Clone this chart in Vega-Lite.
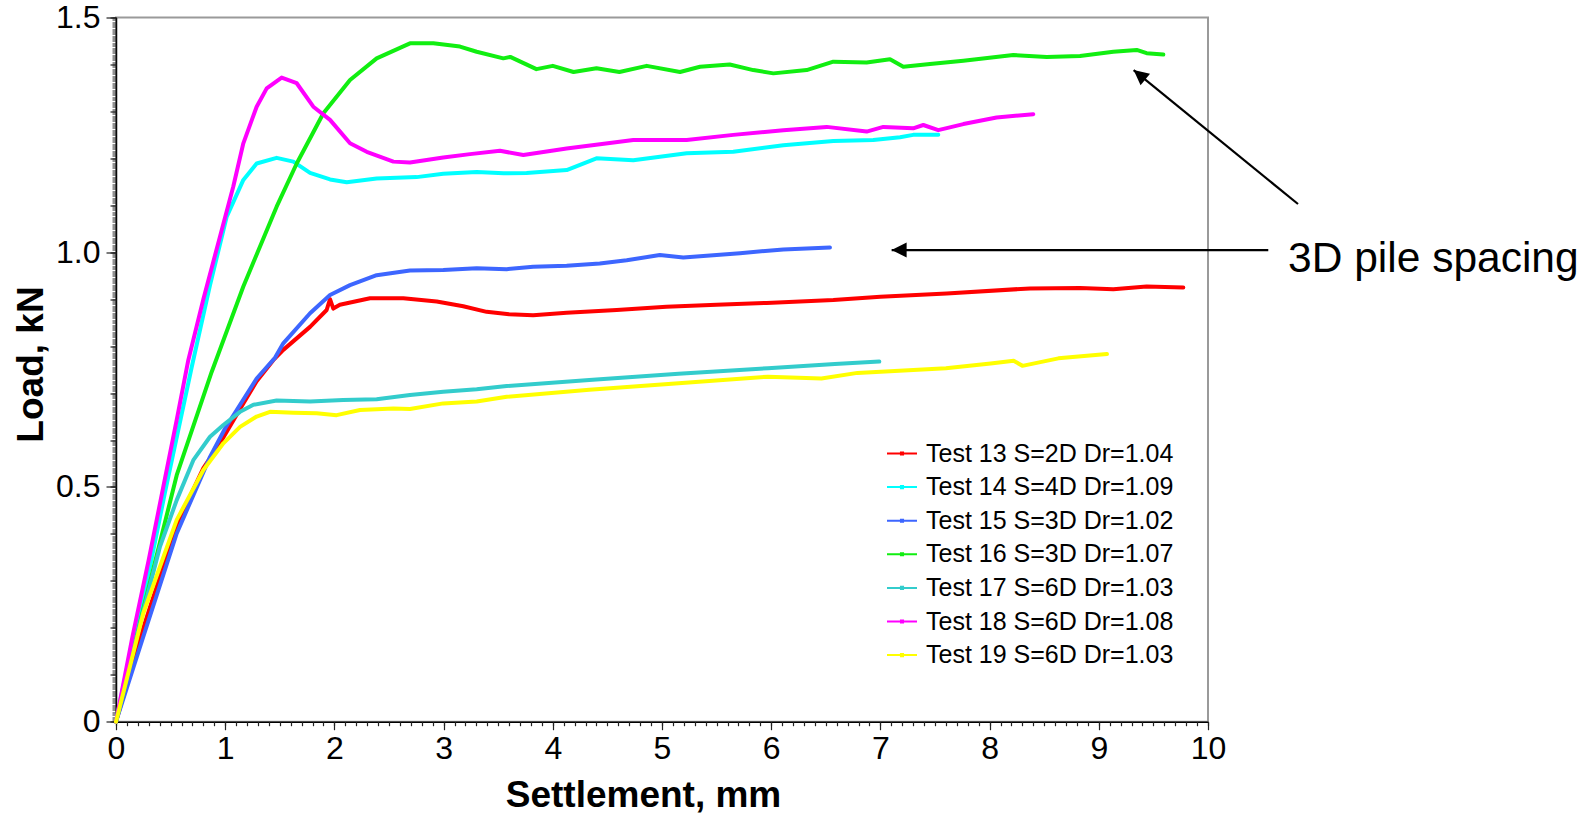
{
  "$schema": "https://vega.github.io/schema/vega-lite/v6.json",
  "autosize": "none",
  "width": 1092,
  "height": 704.2,
  "padding": {"left": 116, "top": 17.5, "right": 386, "bottom": 92.3},
  "background": "white",
  "config": {
    "view": {"stroke": "#9a9a9a", "strokeWidth": 2},
    "font": "Liberation Sans",
    "axis": {"grid": false, "labelFont": "Liberation Sans", "titleFont": "Liberation Sans", "labelColor": "#000", "titleColor": "#000", "tickColor": "#222", "domainColor": "#000"}
  },
  "datasets": {
    "ann": [
      {"k": "h", "x": 7.103, "y": 1.0047, "x2": 10.552, "y2": 1.0047},
      {"k": "d", "x": 9.319, "y": 1.388, "x2": 10.824, "y2": 1.1027},
      {"k": "t", "x": 10.733, "y": 0.9585, "label": "3D pile spacing"}
    ]
  },
  "data": {"values": [
    {"s":"Test 13 S=2D Dr=1.04","x":0,"y":0},{"s":"Test 13 S=2D Dr=1.04","x":0.25,"y":0.2},{"s":"Test 13 S=2D Dr=1.04","x":0.556,"y":0.42},{"s":"Test 13 S=2D Dr=1.04","x":0.8,"y":0.54},{"s":"Test 13 S=2D Dr=1.04","x":0.952,"y":0.593},{"s":"Test 13 S=2D Dr=1.04","x":1.166,"y":0.678},{"s":"Test 13 S=2D Dr=1.04","x":1.288,"y":0.725},{"s":"Test 13 S=2D Dr=1.04","x":1.44,"y":0.77},{"s":"Test 13 S=2D Dr=1.04","x":1.532,"y":0.792},{"s":"Test 13 S=2D Dr=1.04","x":1.777,"y":0.841},{"s":"Test 13 S=2D Dr=1.04","x":1.929,"y":0.877},{"s":"Test 13 S=2D Dr=1.04","x":1.96,"y":0.9},{"s":"Test 13 S=2D Dr=1.04","x":1.99,"y":0.88},{"s":"Test 13 S=2D Dr=1.04","x":2.05,"y":0.888},{"s":"Test 13 S=2D Dr=1.04","x":2.326,"y":0.902},{"s":"Test 13 S=2D Dr=1.04","x":2.631,"y":0.902},{"s":"Test 13 S=2D Dr=1.04","x":2.937,"y":0.895},{"s":"Test 13 S=2D Dr=1.04","x":3.18,"y":0.885},{"s":"Test 13 S=2D Dr=1.04","x":3.394,"y":0.873},{"s":"Test 13 S=2D Dr=1.04","x":3.6,"y":0.868},{"s":"Test 13 S=2D Dr=1.04","x":3.82,"y":0.866},{"s":"Test 13 S=2D Dr=1.04","x":4.127,"y":0.871},{"s":"Test 13 S=2D Dr=1.04","x":4.585,"y":0.877},{"s":"Test 13 S=2D Dr=1.04","x":5.04,"y":0.884},{"s":"Test 13 S=2D Dr=1.04","x":5.5,"y":0.888},{"s":"Test 13 S=2D Dr=1.04","x":5.958,"y":0.892},{"s":"Test 13 S=2D Dr=1.04","x":6.569,"y":0.898},{"s":"Test 13 S=2D Dr=1.04","x":7.0,"y":0.905},{"s":"Test 13 S=2D Dr=1.04","x":7.607,"y":0.912},{"s":"Test 13 S=2D Dr=1.04","x":8.37,"y":0.923},{"s":"Test 13 S=2D Dr=1.04","x":8.828,"y":0.924},{"s":"Test 13 S=2D Dr=1.04","x":9.133,"y":0.921},{"s":"Test 13 S=2D Dr=1.04","x":9.438,"y":0.927},{"s":"Test 13 S=2D Dr=1.04","x":9.774,"y":0.925},

    {"s":"Test 14 S=4D Dr=1.09","x":0,"y":0},{"s":"Test 14 S=4D Dr=1.09","x":0.16,"y":0.18},{"s":"Test 14 S=4D Dr=1.09","x":0.32,"y":0.34},{"s":"Test 14 S=4D Dr=1.09","x":0.45,"y":0.49},{"s":"Test 14 S=4D Dr=1.09","x":0.693,"y":0.755},{"s":"Test 14 S=4D Dr=1.09","x":0.861,"y":0.93},{"s":"Test 14 S=4D Dr=1.09","x":1.013,"y":1.075},{"s":"Test 14 S=4D Dr=1.09","x":1.166,"y":1.154},{"s":"Test 14 S=4D Dr=1.09","x":1.288,"y":1.189},{"s":"Test 14 S=4D Dr=1.09","x":1.471,"y":1.201},{"s":"Test 14 S=4D Dr=1.09","x":1.624,"y":1.193},{"s":"Test 14 S=4D Dr=1.09","x":1.777,"y":1.169},{"s":"Test 14 S=4D Dr=1.09","x":1.96,"y":1.155},{"s":"Test 14 S=4D Dr=1.09","x":2.113,"y":1.149},{"s":"Test 14 S=4D Dr=1.09","x":2.387,"y":1.157},{"s":"Test 14 S=4D Dr=1.09","x":2.753,"y":1.16},{"s":"Test 14 S=4D Dr=1.09","x":2.997,"y":1.167},{"s":"Test 14 S=4D Dr=1.09","x":3.303,"y":1.171},{"s":"Test 14 S=4D Dr=1.09","x":3.55,"y":1.168},{"s":"Test 14 S=4D Dr=1.09","x":3.76,"y":1.169},{"s":"Test 14 S=4D Dr=1.09","x":4.127,"y":1.175},{"s":"Test 14 S=4D Dr=1.09","x":4.4,"y":1.2},{"s":"Test 14 S=4D Dr=1.09","x":4.737,"y":1.196},{"s":"Test 14 S=4D Dr=1.09","x":5.226,"y":1.211},{"s":"Test 14 S=4D Dr=1.09","x":5.653,"y":1.214},{"s":"Test 14 S=4D Dr=1.09","x":6.111,"y":1.228},{"s":"Test 14 S=4D Dr=1.09","x":6.569,"y":1.237},{"s":"Test 14 S=4D Dr=1.09","x":6.935,"y":1.239},{"s":"Test 14 S=4D Dr=1.09","x":7.18,"y":1.245},{"s":"Test 14 S=4D Dr=1.09","x":7.3,"y":1.25},{"s":"Test 14 S=4D Dr=1.09","x":7.53,"y":1.25},

    {"s":"Test 15 S=3D Dr=1.02","x":0,"y":0},{"s":"Test 15 S=3D Dr=1.02","x":0.25,"y":0.181},{"s":"Test 15 S=3D Dr=1.02","x":0.556,"y":0.401},{"s":"Test 15 S=3D Dr=1.02","x":0.861,"y":0.564},{"s":"Test 15 S=3D Dr=1.02","x":1.0,"y":0.625},{"s":"Test 15 S=3D Dr=1.02","x":1.288,"y":0.731},{"s":"Test 15 S=3D Dr=1.02","x":1.456,"y":0.775},{"s":"Test 15 S=3D Dr=1.02","x":1.532,"y":0.806},{"s":"Test 15 S=3D Dr=1.02","x":1.777,"y":0.87},{"s":"Test 15 S=3D Dr=1.02","x":1.96,"y":0.909},{"s":"Test 15 S=3D Dr=1.02","x":2.143,"y":0.93},{"s":"Test 15 S=3D Dr=1.02","x":2.387,"y":0.951},{"s":"Test 15 S=3D Dr=1.02","x":2.692,"y":0.961},{"s":"Test 15 S=3D Dr=1.02","x":2.997,"y":0.962},{"s":"Test 15 S=3D Dr=1.02","x":3.303,"y":0.966},{"s":"Test 15 S=3D Dr=1.02","x":3.578,"y":0.964},{"s":"Test 15 S=3D Dr=1.02","x":3.82,"y":0.969},{"s":"Test 15 S=3D Dr=1.02","x":4.127,"y":0.971},{"s":"Test 15 S=3D Dr=1.02","x":4.43,"y":0.976},{"s":"Test 15 S=3D Dr=1.02","x":4.677,"y":0.983},{"s":"Test 15 S=3D Dr=1.02","x":4.98,"y":0.994},{"s":"Test 15 S=3D Dr=1.02","x":5.195,"y":0.989},{"s":"Test 15 S=3D Dr=1.02","x":5.5,"y":0.994},{"s":"Test 15 S=3D Dr=1.02","x":5.714,"y":0.998},{"s":"Test 15 S=3D Dr=1.02","x":6.111,"y":1.006},{"s":"Test 15 S=3D Dr=1.02","x":6.538,"y":1.01},

    {"s":"Test 16 S=3D Dr=1.07","x":0,"y":0},{"s":"Test 16 S=3D Dr=1.07","x":0.25,"y":0.24},{"s":"Test 16 S=3D Dr=1.07","x":0.556,"y":0.525},{"s":"Test 16 S=3D Dr=1.07","x":0.876,"y":0.745},{"s":"Test 16 S=3D Dr=1.07","x":1.166,"y":0.927},{"s":"Test 16 S=3D Dr=1.07","x":1.471,"y":1.097},{"s":"Test 16 S=3D Dr=1.07","x":1.655,"y":1.189},{"s":"Test 16 S=3D Dr=1.07","x":1.899,"y":1.296},{"s":"Test 16 S=3D Dr=1.07","x":2.143,"y":1.367},{"s":"Test 16 S=3D Dr=1.07","x":2.387,"y":1.413},{"s":"Test 16 S=3D Dr=1.07","x":2.692,"y":1.445},{"s":"Test 16 S=3D Dr=1.07","x":2.906,"y":1.445},{"s":"Test 16 S=3D Dr=1.07","x":3.15,"y":1.438},{"s":"Test 16 S=3D Dr=1.07","x":3.303,"y":1.427},{"s":"Test 16 S=3D Dr=1.07","x":3.547,"y":1.413},{"s":"Test 16 S=3D Dr=1.07","x":3.61,"y":1.416},{"s":"Test 16 S=3D Dr=1.07","x":3.85,"y":1.39},{"s":"Test 16 S=3D Dr=1.07","x":4.0,"y":1.397},{"s":"Test 16 S=3D Dr=1.07","x":4.19,"y":1.384},{"s":"Test 16 S=3D Dr=1.07","x":4.4,"y":1.392},{"s":"Test 16 S=3D Dr=1.07","x":4.61,"y":1.384},{"s":"Test 16 S=3D Dr=1.07","x":4.86,"y":1.397},{"s":"Test 16 S=3D Dr=1.07","x":5.165,"y":1.384},{"s":"Test 16 S=3D Dr=1.07","x":5.348,"y":1.395},{"s":"Test 16 S=3D Dr=1.07","x":5.62,"y":1.4},{"s":"Test 16 S=3D Dr=1.07","x":5.836,"y":1.388},{"s":"Test 16 S=3D Dr=1.07","x":6.02,"y":1.381},{"s":"Test 16 S=3D Dr=1.07","x":6.325,"y":1.388},{"s":"Test 16 S=3D Dr=1.07","x":6.569,"y":1.406},{"s":"Test 16 S=3D Dr=1.07","x":6.874,"y":1.404},{"s":"Test 16 S=3D Dr=1.07","x":7.088,"y":1.411},{"s":"Test 16 S=3D Dr=1.07","x":7.21,"y":1.395},{"s":"Test 16 S=3D Dr=1.07","x":7.454,"y":1.401},{"s":"Test 16 S=3D Dr=1.07","x":7.76,"y":1.408},{"s":"Test 16 S=3D Dr=1.07","x":8.217,"y":1.42},{"s":"Test 16 S=3D Dr=1.07","x":8.523,"y":1.416},{"s":"Test 16 S=3D Dr=1.07","x":8.828,"y":1.418},{"s":"Test 16 S=3D Dr=1.07","x":9.133,"y":1.427},{"s":"Test 16 S=3D Dr=1.07","x":9.347,"y":1.431},{"s":"Test 16 S=3D Dr=1.07","x":9.438,"y":1.424},{"s":"Test 16 S=3D Dr=1.07","x":9.591,"y":1.421},

    {"s":"Test 17 S=6D Dr=1.03","x":0,"y":0},{"s":"Test 17 S=6D Dr=1.03","x":0.2,"y":0.19},{"s":"Test 17 S=6D Dr=1.03","x":0.403,"y":0.373},{"s":"Test 17 S=6D Dr=1.03","x":0.556,"y":0.472},{"s":"Test 17 S=6D Dr=1.03","x":0.708,"y":0.557},{"s":"Test 17 S=6D Dr=1.03","x":0.861,"y":0.607},{"s":"Test 17 S=6D Dr=1.03","x":0.983,"y":0.632},{"s":"Test 17 S=6D Dr=1.03","x":1.136,"y":0.66},{"s":"Test 17 S=6D Dr=1.03","x":1.258,"y":0.675},{"s":"Test 17 S=6D Dr=1.03","x":1.471,"y":0.684},{"s":"Test 17 S=6D Dr=1.03","x":1.777,"y":0.682},{"s":"Test 17 S=6D Dr=1.03","x":2.08,"y":0.685},{"s":"Test 17 S=6D Dr=1.03","x":2.387,"y":0.687},{"s":"Test 17 S=6D Dr=1.03","x":2.692,"y":0.696},{"s":"Test 17 S=6D Dr=1.03","x":2.997,"y":0.703},{"s":"Test 17 S=6D Dr=1.03","x":3.303,"y":0.708},{"s":"Test 17 S=6D Dr=1.03","x":3.578,"y":0.715},{"s":"Test 17 S=6D Dr=1.03","x":4.334,"y":0.728},{"s":"Test 17 S=6D Dr=1.03","x":5.152,"y":0.741},{"s":"Test 17 S=6D Dr=1.03","x":5.97,"y":0.753},{"s":"Test 17 S=6D Dr=1.03","x":6.583,"y":0.762},{"s":"Test 17 S=6D Dr=1.03","x":6.99,"y":0.767},

    {"s":"Test 18 S=6D Dr=1.08","x":0,"y":0},{"s":"Test 18 S=6D Dr=1.08","x":0.15,"y":0.18},{"s":"Test 18 S=6D Dr=1.08","x":0.3,"y":0.345},{"s":"Test 18 S=6D Dr=1.08","x":0.433,"y":0.5},{"s":"Test 18 S=6D Dr=1.08","x":0.556,"y":0.643},{"s":"Test 18 S=6D Dr=1.08","x":0.662,"y":0.77},{"s":"Test 18 S=6D Dr=1.08","x":0.8,"y":0.9},{"s":"Test 18 S=6D Dr=1.08","x":0.952,"y":1.033},{"s":"Test 18 S=6D Dr=1.08","x":1.074,"y":1.14},{"s":"Test 18 S=6D Dr=1.08","x":1.166,"y":1.232},{"s":"Test 18 S=6D Dr=1.08","x":1.288,"y":1.31},{"s":"Test 18 S=6D Dr=1.08","x":1.38,"y":1.349},{"s":"Test 18 S=6D Dr=1.08","x":1.517,"y":1.372},{"s":"Test 18 S=6D Dr=1.08","x":1.655,"y":1.36},{"s":"Test 18 S=6D Dr=1.08","x":1.807,"y":1.31},{"s":"Test 18 S=6D Dr=1.08","x":1.96,"y":1.282},{"s":"Test 18 S=6D Dr=1.08","x":2.143,"y":1.232},{"s":"Test 18 S=6D Dr=1.08","x":2.296,"y":1.214},{"s":"Test 18 S=6D Dr=1.08","x":2.54,"y":1.193},{"s":"Test 18 S=6D Dr=1.08","x":2.692,"y":1.191},{"s":"Test 18 S=6D Dr=1.08","x":2.997,"y":1.202},{"s":"Test 18 S=6D Dr=1.08","x":3.242,"y":1.209},{"s":"Test 18 S=6D Dr=1.08","x":3.516,"y":1.216},{"s":"Test 18 S=6D Dr=1.08","x":3.73,"y":1.207},{"s":"Test 18 S=6D Dr=1.08","x":4.127,"y":1.221},{"s":"Test 18 S=6D Dr=1.08","x":4.737,"y":1.239},{"s":"Test 18 S=6D Dr=1.08","x":5.226,"y":1.239},{"s":"Test 18 S=6D Dr=1.08","x":5.653,"y":1.25},{"s":"Test 18 S=6D Dr=1.08","x":6.111,"y":1.26},{"s":"Test 18 S=6D Dr=1.08","x":6.508,"y":1.267},{"s":"Test 18 S=6D Dr=1.08","x":6.874,"y":1.257},{"s":"Test 18 S=6D Dr=1.08","x":7.027,"y":1.267},{"s":"Test 18 S=6D Dr=1.08","x":7.3,"y":1.264},{"s":"Test 18 S=6D Dr=1.08","x":7.393,"y":1.271},{"s":"Test 18 S=6D Dr=1.08","x":7.53,"y":1.26},{"s":"Test 18 S=6D Dr=1.08","x":7.76,"y":1.273},{"s":"Test 18 S=6D Dr=1.08","x":8.064,"y":1.287},{"s":"Test 18 S=6D Dr=1.08","x":8.4,"y":1.294},

    {"s":"Test 19 S=6D Dr=1.03","x":0,"y":0},{"s":"Test 19 S=6D Dr=1.03","x":0.25,"y":0.231},{"s":"Test 19 S=6D Dr=1.03","x":0.556,"y":0.43},{"s":"Test 19 S=6D Dr=1.03","x":0.8,"y":0.536},{"s":"Test 19 S=6D Dr=1.03","x":0.983,"y":0.593},{"s":"Test 19 S=6D Dr=1.03","x":1.136,"y":0.628},{"s":"Test 19 S=6D Dr=1.03","x":1.288,"y":0.65},{"s":"Test 19 S=6D Dr=1.03","x":1.41,"y":0.66},{"s":"Test 19 S=6D Dr=1.03","x":1.624,"y":0.658},{"s":"Test 19 S=6D Dr=1.03","x":1.838,"y":0.657},{"s":"Test 19 S=6D Dr=1.03","x":2.02,"y":0.653},{"s":"Test 19 S=6D Dr=1.03","x":2.234,"y":0.664},{"s":"Test 19 S=6D Dr=1.03","x":2.54,"y":0.667},{"s":"Test 19 S=6D Dr=1.03","x":2.692,"y":0.666},{"s":"Test 19 S=6D Dr=1.03","x":2.997,"y":0.678},{"s":"Test 19 S=6D Dr=1.03","x":3.303,"y":0.682},{"s":"Test 19 S=6D Dr=1.03","x":3.578,"y":0.692},{"s":"Test 19 S=6D Dr=1.03","x":4.334,"y":0.707},{"s":"Test 19 S=6D Dr=1.03","x":5.152,"y":0.721},{"s":"Test 19 S=6D Dr=1.03","x":5.97,"y":0.735},{"s":"Test 19 S=6D Dr=1.03","x":6.46,"y":0.731},{"s":"Test 19 S=6D Dr=1.03","x":6.79,"y":0.743},{"s":"Test 19 S=6D Dr=1.03","x":7.6,"y":0.753},{"s":"Test 19 S=6D Dr=1.03","x":8.01,"y":0.763},{"s":"Test 19 S=6D Dr=1.03","x":8.22,"y":0.769},{"s":"Test 19 S=6D Dr=1.03","x":8.3,"y":0.758},{"s":"Test 19 S=6D Dr=1.03","x":8.63,"y":0.774},{"s":"Test 19 S=6D Dr=1.03","x":9.075,"y":0.783}
  ]},
  "resolve": {"axis": {"x": "independent", "y": "independent"}},
  "layer": [
    {
      "mark": {"type": "line", "strokeWidth": 4, "strokeJoin": "round", "strokeCap": "round"},
      "encoding": {
        "x": {"field": "x", "type": "quantitative",
          "scale": {"domain": [0, 10], "nice": false, "zero": false},
          "axis": {"orient": "bottom", "values": [0,1,2,3,4,5,6,7,8,9,10], "tickSize": 8, "tickWidth": 1.2, "domainWidth": 1.5, "labelFontSize": 32, "labelPadding": 4, "labelFlush": false, "labelOverlap": false,
            "title": "Settlement, mm", "titleFontSize": 37, "titleFontWeight": "bold", "titleX": 527, "titleY": 85, "titleBaseline": "alphabetic", "titleAlign": "center", "titleAnchor": null}},
        "y": {"field": "y", "type": "quantitative",
          "scale": {"domain": [0, 1.5], "nice": false, "zero": false},
          "axis": {"orient": "left", "values": [0, 0.5, 1, 1.5], "labelExpr": "datum.value == 0 ? '0' : format(datum.value, '.1f')", "tickSize": 10, "tickWidth": 1.2, "domainWidth": 1.5, "labelFontSize": 32, "labelPadding": 6, "labelFlush": false, "labelOverlap": false,
            "title": "Load, kN", "titleFontSize": 37, "titleFontWeight": "bold", "titleX": -74, "titleY": 346.5, "titleBaseline": "alphabetic", "titleAlign": "center", "titleAngle": -90}},
        "color": {"field": "s", "type": "nominal",
          "scale": {"domain": ["Test 13 S=2D Dr=1.04","Test 14 S=4D Dr=1.09","Test 15 S=3D Dr=1.02","Test 16 S=3D Dr=1.07","Test 17 S=6D Dr=1.03","Test 18 S=6D Dr=1.08","Test 19 S=6D Dr=1.03"],
                    "range": ["#ff0000","#00ffff","#3d66ff","#11ee11","#33cccc","#ff00ff","#ffff00"]},
          "legend": {"orient": "none", "legendX": 770, "legendY": 420, "title": null, "padding": 0,
            "symbolType": "M-1,0H1M-0.07,-0.07H0.07V0.07H-0.07Z", "symbolSize": 900, "symbolStrokeWidth": 2,
            "labelFont": "Liberation Sans", "labelFontSize": 25, "labelColor": "#000", "labelOffset": 8, "rowPadding": 4.6, "labelLimit": 400}}
      }
    },
    {
      "data": {"name": "ann"},
      "transform": [{"filter": "datum.k != 't'"}],
      "mark": {"type": "rule", "color": "#000", "strokeWidth": 2.2},
      "encoding": {
        "x": {"field": "x", "type": "quantitative", "scale": {"domain": [0, 10], "nice": false, "zero": false},
          "axis": {"orient": "bottom", "tickCount": 100, "tickSize": 4, "tickWidth": 1.2, "labels": false, "domain": false, "title": null}},
        "y": {"field": "y", "type": "quantitative", "scale": {"domain": [0, 1.5], "nice": false, "zero": false},
          "axis": {"orient": "left", "tickCount": 15, "tickSize": 6, "tickWidth": 1.2, "labels": false, "domain": false, "title": null}},
        "x2": {"field": "x2"},
        "y2": {"field": "y2"}
      }
    },
    {
      "data": {"name": "ann"},
      "transform": [{"filter": "datum.k == 'h'"}],
      "mark": {"type": "point", "shape": "M0,0L-0.5,1L0.5,1Z", "size": 900, "angle": 270, "filled": true, "color": "#000", "opacity": 1},
      "encoding": {
        "x": {"field": "x", "type": "quantitative", "scale": {"domain": [0, 10], "nice": false, "zero": false}, "axis": null},
        "y": {"field": "y", "type": "quantitative", "scale": {"domain": [0, 1.5], "nice": false, "zero": false},
          "axis": {"orient": "left", "tickCount": 300, "tickSize": 4, "tickWidth": 1, "labels": false, "domain": false, "title": null}}
      }
    },
    {
      "data": {"name": "ann"},
      "transform": [{"filter": "datum.k == 'd'"}],
      "mark": {"type": "point", "shape": "M0,0L-0.5,1L0.5,1Z", "size": 900, "angle": 309, "filled": true, "color": "#000", "opacity": 1},
      "encoding": {
        "x": {"field": "x", "type": "quantitative", "scale": {"domain": [0, 10], "nice": false, "zero": false}, "axis": null},
        "y": {"field": "y", "type": "quantitative", "scale": {"domain": [0, 1.5], "nice": false, "zero": false}, "axis": null}
      }
    },
    {
      "data": {"name": "ann"},
      "transform": [{"filter": "datum.k == 't'"}],
      "mark": {"type": "text", "align": "left", "baseline": "alphabetic", "fontSize": 42.5, "font": "Liberation Sans", "color": "#000"},
      "encoding": {
        "x": {"field": "x", "type": "quantitative", "scale": {"domain": [0, 10], "nice": false, "zero": false}, "axis": null},
        "y": {"field": "y", "type": "quantitative", "scale": {"domain": [0, 1.5], "nice": false, "zero": false}, "axis": null},
        "text": {"field": "label"}
      }
    }
  ]
}
